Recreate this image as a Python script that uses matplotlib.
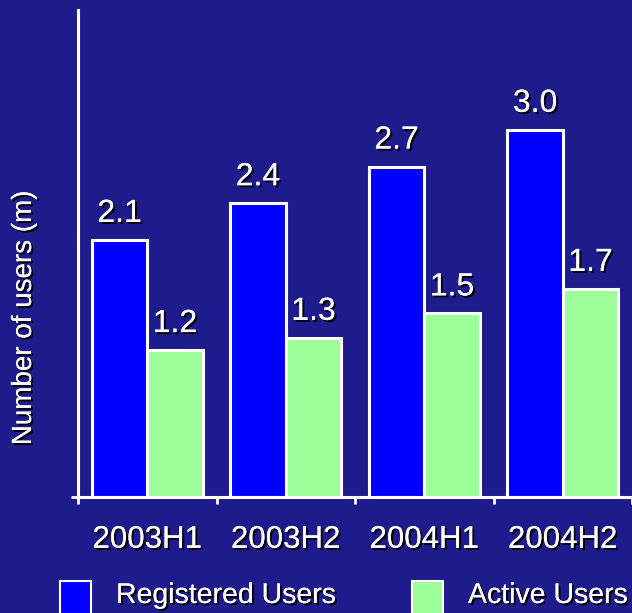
import numpy as np
import matplotlib.pyplot as plt
import matplotlib.patheffects as pe
from matplotlib.patches import Rectangle

# half-year periods and user counts (millions)
periods = ["2003H1", "2003H2", "2004H1", "2004H2"]
registered = [2.1, 2.4, 2.7, 3.0]
active = [1.2, 1.3, 1.5, 1.7]

bg = "#1e1b8c"
blue = "#0000ff"
green = "#9cff99"
W, H = 632, 613

plt.rcParams['font.family'] = ['Liberation Sans', 'DejaVu Sans']
shadow = [pe.withSimplePatchShadow(offset=(1.5, -1.5), shadow_rgbFace='black', alpha=0.9), pe.Normal()]

fig = plt.figure(figsize=(W / 100, H / 100), dpi=100)
fig.patch.set_facecolor(bg)
ax = fig.add_axes([78 / W, (H - 497) / H, (632 - 78) / W, 487 / H])
ax.set_facecolor('none')

x = np.arange(len(periods))
bw = 0.4
b1 = ax.bar(x - bw / 2, registered, bw, color=blue, edgecolor='white', linewidth=2.2)
b2 = ax.bar(x + bw / 2, active, bw, color=green, edgecolor='white', linewidth=2.2)

for bars, vals in ((b1, registered), (b2, active)):
    for r, v in zip(bars, vals):
        t = ax.annotate(f"{v:.1f}", (r.get_x() + r.get_width() / 2, v),
                        xytext=(0, 8), textcoords='offset points',
                        ha='center', va='bottom', color='white', fontsize=23)
        t.set_path_effects(shadow)

ax.set_xlim(-0.5, 3.5)
ax.set_ylim(0, 3.98)
ax.set_xticks(np.arange(-0.5, 4, 1))
ax.set_xticklabels([])
ax.set_xticks(x, minor=True)
ax.set_xticklabels(periods, minor=True, color='white', fontsize=22.5)
ax.tick_params(axis='x', which='major', length=5, width=2, color='white', direction='out')
ax.tick_params(axis='x', which='minor', length=0, pad=20)
for lab in ax.get_xticklabels(minor=True):
    lab.set_path_effects(shadow)
ax.set_yticks([0])
ax.set_yticklabels([])
ax.tick_params(axis='y', length=5, width=2, color='white', direction='out')

for s in ('top', 'right'):
    ax.spines[s].set_visible(False)
for s in ('left', 'bottom'):
    ax.spines[s].set_color('white')
    ax.spines[s].set_linewidth(2.2)

yl = fig.text(24 / W, 1 - 318 / H, "Number of users (m)", rotation=90,
              ha='center', va='center', color='white', fontsize=20)
yl.set_path_effects(shadow)

# legend drawn along the bottom edge
for px, label, col, tx in ((60, "Registered Users", blue, 116), (412, "Active Users", green, 468)):
    fig.add_artist(Rectangle((px / W, (H - 614) / H), 31 / W, 33 / H,
                             transform=fig.transFigure, facecolor=col,
                             edgecolor='white', linewidth=1.5))
    t = fig.text(tx / W, 1 - 596 / H, label, ha='left', va='center',
                 color='white', fontsize=20.5)
    t.set_path_effects(shadow)

fig.savefig("out.png", dpi=100, facecolor=bg)
